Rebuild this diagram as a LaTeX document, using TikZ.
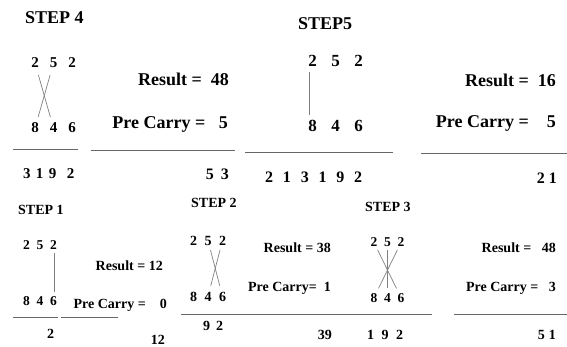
\documentclass[tikz,border=0pt]{standalone}
\usepackage{fontspec}
\setmainfont{Liberation Serif}
\usetikzlibrary{positioning}

\begin{document}
\begin{tikzpicture}[x=1pt,y=-1pt,inner sep=0pt,
  big/.style={font=\fontsize{18}{20}\selectfont\bfseries},
  small/.style={font=\fontsize{14}{16}\selectfont\bfseries},
  digit/.style={font=\fontsize{#1}{#1}\selectfont\bfseries,anchor=base},
  row/.style 2 args={font={\fontsize{#1}{#1}\selectfont\bfseries\spaceskip=#2pt\relax}},
  rule/.style={draw=black!60,line width=0.9pt},
  xline/.style={draw=black!50,line width=0.7pt}]
  \useasboundingbox (0,0) rectangle (567,347);

  % step 4
  \node[big,anchor=base west] (st4) at (25,24) {STEP 4};
  \foreach \d [count=\i] in {2,5,2}
    \node[digit=15] (s4t\i) at ({35+18.5*(\i-1)},68) {\d};
  \foreach \d [count=\i] in {8,4,6}
    \node[digit=15] (s4b\i) at ({35+18.5*(\i-1)},133) {\d};
  \draw[xline,shorten <=7pt,shorten >=6pt] (s4t1) -- (s4b2);
  \draw[xline,shorten <=7pt,shorten >=6pt] (s4t2) -- (s4b1);
  \node[big,anchor=base east] (res4) at (229,86) {Result =~~48};
  \node[big,anchor=base east] (pc4) at (228,129) {Pre Carry =~~~5};
  \node[row={15}{5.3},anchor=base west] (out4) at (23,179) {3 1 9~~2};
  \node[row={16}{7},anchor=base east] (sum4) at (229,180) {5 3};

  % step 5
  \node[big,anchor=base west] (st5) at (298,30) {STEP5};
  \foreach \d [count=\i] in {2,5,2}
    \node[digit=17] (s5t\i) at ({312.5+23*(\i-1)},67) {\d};
  \foreach \d [count=\i] in {8,4,6}
    \node[digit=17] (s5b\i) at ({312.5+23*(\i-1)},132) {\d};
  \draw[xline,shorten <=5pt,shorten >=5pt] ([xshift=-3.5pt]s5t1.south) -- ([xshift=-3.5pt]s5b1.north);
  \node[big,anchor=base east] (res5) at (556,87) {Result =~~16};
  \node[big,anchor=base east] (pc5) at (556,128) {Pre Carry =~~~~5};
  \node[row={16}{9.8},anchor=base west] (out5) at (265,183) {2 1 3 1 9 2};
  \node[row={16}{4},anchor=base east] (sum5) at (557,184) {2 1};

  \draw[rule] (13,149) -- (78,149);
  \draw[rule] (91,150) -- (235,150);
  \draw[rule] (245,152) -- (393,152);
  \draw[rule] (421,153) -- (567,153);

  % step 1
  \node[small,anchor=base west] (st1) at (18,215) {STEP 1};
  \foreach \d [count=\i] in {2,5,2}
    \node[digit=13.5] (s1t\i) at ({26.5+13.5*(\i-1)},249) {\d};
  \foreach \d [count=\i] in {8,4,6}
    \node[digit=13.5] (s1b\i) at ({26.5+13.5*(\i-1)},305) {\d};
  \draw[xline,shorten <=4pt,shorten >=4pt] ([xshift=1pt]s1t3.south) -- ([xshift=1pt]s1b3.north);
  \node[small,anchor=base east] (res1) at (163,270) {Result = 12};
  \node[small,anchor=base east] (pc1) at (167,308) {Pre Carry =~~~~0};
  \node[small,anchor=base west] (out1) at (47,338) {2};
  \node[small,anchor=base east] (sum1) at (165,344) {12};

  % step 2
  \node[small,anchor=base west] (st2) at (191,208) {STEP 2};
  \foreach \d [count=\i] in {2,5,2}
    \node[digit=14] (s2t\i) at ({193.5+14.5*(\i-1)},245) {\d};
  \foreach \d [count=\i] in {8,4,6}
    \node[digit=14] (s2b\i) at ({193.5+14.5*(\i-1)},301) {\d};
  \draw[xline,shorten <=5pt,shorten >=6pt] (s2t2) -- (s2b3);
  \draw[xline,shorten <=5pt,shorten >=6pt] (s2t3) -- (s2b2);
  \node[small,anchor=base east] (res2) at (331,253) {Result = 38};
  \node[small,anchor=base east] (pc2) at (331,291) {Pre Carry=~~1};
  \node[row={14}{6},anchor=base west] (out2) at (203,330) {9 2};
  \node[small,anchor=base east] (sum2) at (332,339) {39};

  % step 3
  \node[small,anchor=base west] (st3) at (365,212) {STEP 3};
  \foreach \d [count=\i] in {2,5,2}
    \node[digit=13.5] (s3t\i) at ({374+13.5*(\i-1)},247) {\d};
  \foreach \d [count=\i] in {8,4,6}
    \node[digit=13.5] (s3b\i) at ({374+13.5*(\i-1)},302) {\d};
  \draw[xline,shorten <=3pt,shorten >=5pt] (s3t1) -- (s3b3);
  \draw[xline,shorten <=3pt,shorten >=5pt] (s3t3) -- (s3b1);
  \draw[xline,shorten <=3pt,shorten >=5pt] (s3t2) -- (s3b2);
  \node[row={14}{7.5},anchor=base west] (out3) at (367,339) {1 9 2};
  \node[small,anchor=base east] (res3) at (556,253) {Result =~~~48};
  \node[small,anchor=base east] (pc3) at (556,291) {Pre Carry =~~~3};
  \node[row={14}{4},anchor=base east] (sum3) at (556,339) {5 1};

  \draw[rule] (13,317) -- (58,317);
  \draw[rule] (61,317) -- (118,317);
  \draw[rule] (181,314) -- (432,314);
  \draw[rule] (454,314) -- (567,314);
\end{tikzpicture}
\end{document}
